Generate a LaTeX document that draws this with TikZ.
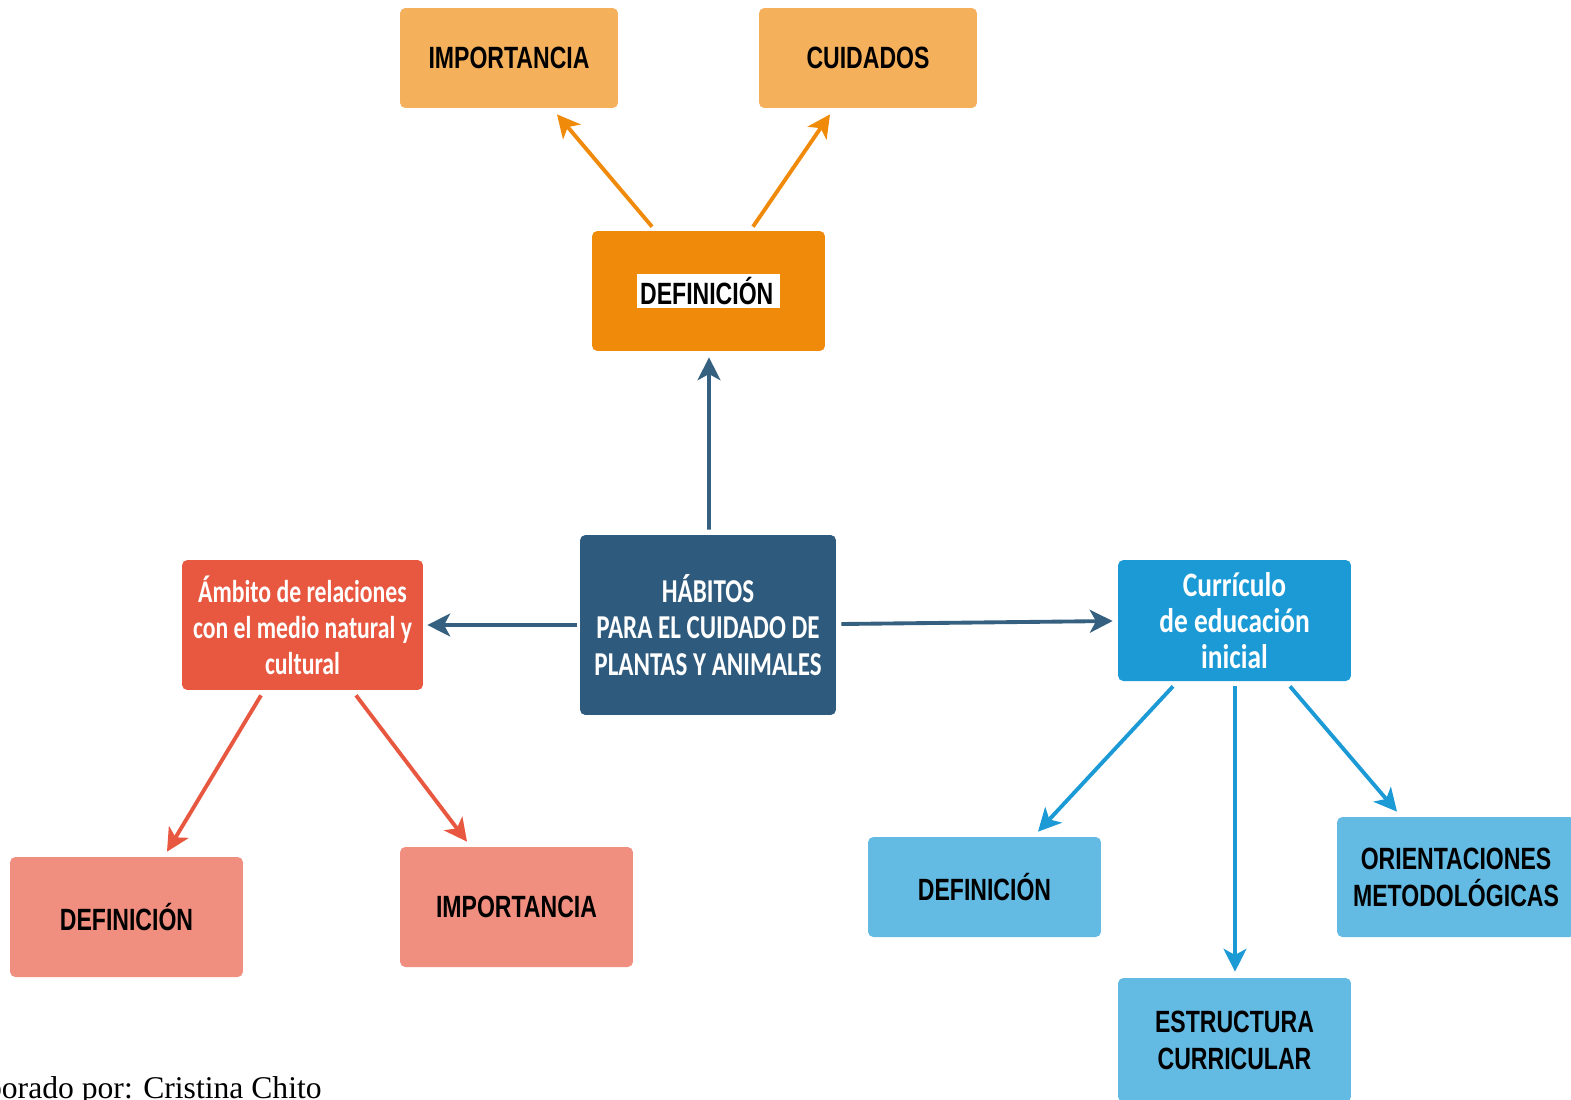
\documentclass[tikz,border=0pt]{standalone}
\usepackage{fontspec}
\usetikzlibrary{arrows.meta}
\newfontfamily\blkfont[FakeStretch=0.75]{Liberation Sans}
\newfontfamily\whtfont[FakeStretch=0.75]{Carlito}
\newfontfamily\curfont[FakeStretch=0.8]{Carlito}
\newfontfamily\serfont{Liberation Serif}
\definecolor{lorange}{HTML}{F5B05C}
\definecolor{dorange}{HTML}{F08A0A}
\definecolor{dblue}{HTML}{2E5B7D}
\definecolor{dbluearr}{HTML}{35607F}
\definecolor{redc}{HTML}{E8573F}
\definecolor{pinkc}{HTML}{F08F80}
\definecolor{bluec}{HTML}{1B9AD6}
\definecolor{lblue}{HTML}{63BAE3}
\tikzset{
  box/.style={rectangle, rounded corners=3pt, draw=none, inner sep=0pt, align=center},
  blktext/.style={font=\blkfont\bfseries\fontsize{17.5pt}{21pt}\selectfont, text=black},
  whttext/.style={font=\whtfont\bfseries\fontsize{19pt}{21pt}\selectfont, text=white},
  conn/.style={line width=2.2pt, -{Stealth[length=13pt,width=13pt,inset=3.5pt]}},
}
\begin{document}
\begin{tikzpicture}[x=0.02cm,y=-0.02cm]
\useasboundingbox (0,0) rectangle (1571,1099);
\clip (0,0) rectangle (1571,1099);
% top row
\node[box, blktext, fill=lorange, minimum width=4.36cm, minimum height=2cm] (imp1) at (509,58) {IMPORTANCIA};
\node[box, blktext, fill=lorange, minimum width=4.36cm, minimum height=2cm] (cui) at (868,58) {CUIDADOS};
\node[box, blktext, fill=dorange, minimum width=4.66cm, minimum height=2.4cm] (def) at (708.5,291) {\setlength{\fboxsep}{2pt}\colorbox{white}{DEFINICIÓN\hspace{2pt}}};
% centre
\node[box, whttext, fill=dblue, minimum width=5.12cm, minimum height=3.6cm] (hab) at (708,625) {HÁBITOS\\PARA EL CUIDADO DE\\PLANTAS Y ANIMALES};
\node[box, whttext, font=\whtfont\bfseries\fontsize{18pt}{20.5pt}\selectfont, fill=redc, minimum width=4.82cm, minimum height=2.6cm] (amb) at (302.5,625) {Ámbito de relaciones\\con el medio natural y\\cultural};
\node[box, whttext, font=\curfont\bfseries\fontsize{19.5pt}{20.5pt}\selectfont, fill=bluec, minimum width=4.66cm, minimum height=2.42cm] (cur) at (1234.5,620.5) {Currículo\\de educación\\inicial};
% bottom left
\node[box, blktext, fill=pinkc, minimum width=4.66cm, minimum height=2.4cm] (pdef) at (126.5,917) {DEFINICIÓN};
\node[box, blktext, fill=pinkc, minimum width=4.66cm, minimum height=2.4cm] (pimp) at (516.5,907) {IMPORTANCIA};
% bottom right
\node[box, blktext, fill=lblue, minimum width=4.66cm, minimum height=2cm] (bdef) at (984.5,887) {DEFINICIÓN};
\node[box, blktext, fill=lblue, minimum width=4.76cm, minimum height=2.4cm] (ori) at (1456,877) {ORIENTACIONES\\METODOLÓGICAS};
\node[box, blktext, fill=lblue, minimum width=4.66cm, minimum height=2.48cm] (est) at (1234.5,1040) {ESTRUCTURA\\CURRICULAR};
% connectors
\draw[conn, dorange] ([xshift=-1.13cm,yshift=0.08cm]def.north) -- ([xshift=0.96cm,yshift=-0.12cm]imp1.south);
\draw[conn, dorange] ([xshift=0.89cm,yshift=0.08cm]def.north) -- ([xshift=-0.76cm,yshift=-0.12cm]cui.south);
\draw[conn, dbluearr] ([xshift=0.02cm,yshift=0.1cm]hab.north) -- ([xshift=0.01cm,yshift=-0.12cm]def.south);
\draw[conn, dbluearr] ([xshift=-0.06cm]hab.west) -- ([xshift=0.08cm]amb.east);
\draw[conn, dbluearr] ([xshift=0.1cm,yshift=0.02cm]hab.east) -- ([xshift=-0.1cm,yshift=-0.01cm]cur.west);
\draw[conn, redc] ([xshift=-0.83cm,yshift=-0.1cm]amb.south) -- ([xshift=0.81cm,yshift=0.1cm]pdef.north);
\draw[conn, redc] ([xshift=1.07cm,yshift=-0.1cm]amb.south) -- ([xshift=-0.99cm,yshift=0.1cm]pimp.north);
\draw[conn, bluec] ([xshift=-1.23cm,yshift=-0.1cm]cur.south) -- ([xshift=1.07cm,yshift=0.1cm]bdef.north);
\draw[conn, bluec] ([xshift=0.01cm,yshift=-0.1cm]cur.south) -- ([xshift=0.01cm,yshift=0.12cm]est.north);
\draw[conn, bluec] ([xshift=1.11cm,yshift=-0.1cm]cur.south) -- ([xshift=-1.18cm,yshift=0.1cm]ori.north);
% footer (cut off at the left edge, as in the reference)
\node[anchor=base east, inner sep=0pt, font=\serfont\fontsize{18pt}{21pt}\selectfont] (foot) at (322,1098) {Elaborado por: Cristina Chito};
\end{tikzpicture}
\end{document}
